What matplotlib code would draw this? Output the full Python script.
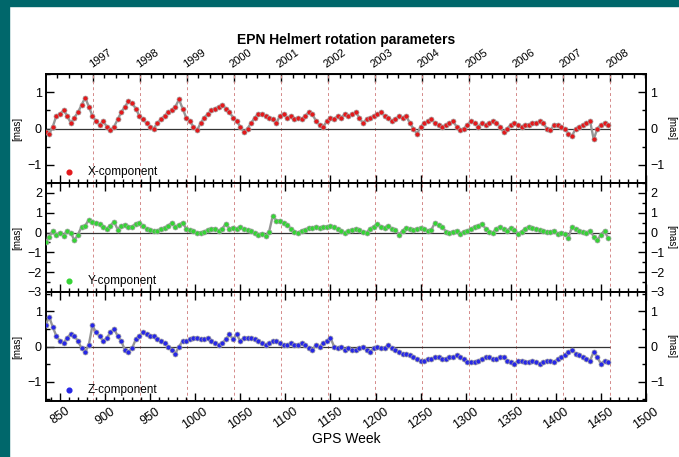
import datetime as dt
import numpy as np
import matplotlib
matplotlib.use("Agg")
import matplotlib.pyplot as plt
from matplotlib.patches import Rectangle
from matplotlib.ticker import MultipleLocator

plt.rcParams['font.family'] = ['Liberation Sans', 'DejaVu Sans']

# weekly solutions, one value read every 4 GPS weeks starting at week 834
FIRST_WEEK = 834
STEP = 4

x_comp = [
    -0.1, -0.15, 0.05, 0.35, 0.4, 0.5, 0.35, 0.15, 0.3, 0.45,
    0.65, 0.85, 0.6, 0.35, 0.2, 0.1, 0.2, 0.05, -0.05, 0.05,
    0.25, 0.45, 0.6, 0.75, 0.7, 0.55, 0.35, 0.25, 0.15, 0.05,
    0.0, 0.15, 0.25, 0.35, 0.45, 0.5, 0.6, 0.8, 0.55, 0.3,
    0.2, 0.05, -0.05, 0.15, 0.3, 0.4, 0.5, 0.55, 0.6, 0.65,
    0.55, 0.45, 0.3, 0.2, 0.05, -0.1, 0.0, 0.15, 0.3, 0.4,
    0.4, 0.35, 0.3, 0.25, 0.15, 0.35, 0.4, 0.3, 0.35, 0.25,
    0.3, 0.25, 0.35, 0.45, 0.4, 0.2, 0.1, 0.05, 0.2, 0.3,
    0.25, 0.35, 0.3, 0.4, 0.35, 0.4, 0.45, 0.3, 0.15, 0.25,
    0.3, 0.35, 0.4, 0.45, 0.35, 0.3, 0.2, 0.25, 0.35, 0.3,
    0.35, 0.15, 0.0, -0.15, 0.05, 0.15, 0.2, 0.25, 0.15, 0.1,
    0.05, 0.1, 0.15, 0.2, 0.05, -0.05, 0.0, 0.1, 0.2, 0.15,
    0.05, 0.15, 0.1, 0.15, 0.2, 0.15, 0.05, -0.1, 0.0, 0.1,
    0.15, 0.1, 0.05, 0.1, 0.1, 0.15, 0.15, 0.2, 0.15, 0.0,
    -0.05, 0.1, 0.1, 0.05, 0.0, -0.15, -0.2, 0.0, 0.05, 0.1,
    0.15, 0.2, -0.3, 0.0, 0.1, 0.15, 0.1,
]

y_comp = [
    -0.5, -0.2, 0.1, -0.1, 0.0, -0.15, 0.1, 0.0, -0.4, -0.1,
    0.3, 0.35, 0.65, 0.55, 0.5, 0.45, 0.3, 0.2, 0.35, 0.55,
    0.15, 0.35, 0.4, 0.3, 0.3, 0.45, 0.5, 0.35, 0.2, 0.15,
    0.1, 0.1, 0.2, 0.25, 0.35, 0.5, 0.3, 0.4, 0.5, 0.2,
    0.15, 0.1, 0.0, 0.0, 0.05, 0.15, 0.2, 0.2, 0.1, 0.2,
    0.45, 0.2, 0.25, 0.2, 0.3, 0.2, 0.15, 0.1, 0.0, -0.1,
    -0.05, -0.15, 0.05, 0.85, 0.6, 0.6, 0.5, 0.4, 0.2, 0.05,
    0.0, 0.1, 0.15, 0.25, 0.25, 0.3, 0.25, 0.3, 0.3, 0.35,
    0.3, 0.2, 0.1, 0.0, 0.1, 0.15, 0.2, 0.15, 0.05, 0.0,
    0.2, 0.3, 0.45, 0.3, 0.25, 0.35, 0.2, 0.15, -0.1, 0.1,
    0.25, 0.2, 0.15, 0.2, 0.25, 0.2, 0.1, 0.15, 0.5, 0.4,
    0.3, 0.05, 0.0, 0.05, 0.1, -0.05, 0.05, 0.1, 0.2, 0.3,
    0.35, 0.45, 0.2, 0.05, 0.0, 0.2, 0.3, 0.2, 0.1, 0.25,
    0.15, -0.05, 0.05, 0.2, 0.3, 0.25, 0.2, 0.15, 0.1, 0.05,
    0.05, 0.1, -0.05, 0.0, -0.05, -0.25, 0.3, 0.2, 0.1, 0.05,
    0.0, 0.1, -0.2, -0.4, -0.1, 0.1, -0.3,
]

z_comp = [
    0.6, 0.85, 0.55, 0.3, 0.15, 0.1, 0.25, 0.35, 0.3, 0.15,
    -0.05, -0.15, 0.05, 0.6, 0.4, 0.3, 0.15, 0.25, 0.4, 0.5,
    0.3, 0.15, -0.1, -0.15, -0.05, 0.2, 0.3, 0.4, 0.35, 0.3,
    0.3, 0.2, 0.15, 0.1, 0.0, -0.1, -0.2, 0.0, 0.15, 0.15,
    0.2, 0.25, 0.25, 0.2, 0.2, 0.25, 0.15, 0.1, 0.05, 0.1,
    0.2, 0.35, 0.2, 0.35, 0.15, 0.25, 0.25, 0.25, 0.2, 0.15,
    0.1, 0.05, 0.1, 0.15, 0.15, 0.1, 0.05, 0.05, 0.1, 0.05,
    0.05, 0.1, 0.05, -0.05, -0.1, 0.05, 0.0, 0.1, 0.15, 0.25,
    0.0, -0.05, 0.0, -0.1, -0.05, -0.1, -0.1, -0.05, 0.0, -0.1,
    -0.15, -0.05, 0.0, -0.05, -0.05, 0.05, -0.05, -0.1, -0.15, -0.2,
    -0.2, -0.25, -0.3, -0.35, -0.4, -0.4, -0.35, -0.35, -0.3, -0.3,
    -0.35, -0.35, -0.3, -0.3, -0.25, -0.3, -0.35, -0.45, -0.45, -0.45,
    -0.4, -0.35, -0.3, -0.3, -0.35, -0.35, -0.3, -0.3, -0.4, -0.45,
    -0.5, -0.4, -0.4, -0.45, -0.45, -0.4, -0.45, -0.5, -0.45, -0.4,
    -0.4, -0.45, -0.35, -0.3, -0.25, -0.15, -0.1, -0.2, -0.25, -0.3,
    -0.35, -0.4, -0.15, -0.3, -0.5, -0.4, -0.45,
]

names = ["X-component", "Y-component", "Z-component"]
colors = ["#e3191c", "#35d435", "#2727e6"]
ylims = [(-1.5, 1.5), (-3.0, 2.5), (-1.55, 1.55)]

years = list(range(1997, 2009))
week_min, week_max = 834.5, 1500


def gps_week(year, month=1):
    days = (dt.date(year, month, 1) - dt.date(1980, 1, 6)).days
    return days / 7.0


def style_axis(ax, ylim):
    ax.set_xlim(week_min, week_max)
    ax.set_ylim(*ylim)
    ax.xaxis.set_major_locator(MultipleLocator(50))
    ax.xaxis.set_minor_locator(MultipleLocator(10))
    ax.yaxis.set_major_locator(MultipleLocator(1))
    ax.yaxis.set_minor_locator(MultipleLocator(0.5))
    ax.tick_params(which="both", direction="in", top=True, bottom=True,
                   left=True, right=True, labelright=True, labelbottom=False,
                   width=1.0, labelsize=9, pad=3)
    ax.tick_params(which="major", length=6)
    ax.tick_params(which="minor", length=3)
    for s in ax.spines.values():
        s.set_linewidth(1.4)
    ax.set_ylabel("[mas]", fontsize=7, labelpad=4)
    ax.text(1.033, 0.5, "[mas]", transform=ax.transAxes, rotation=270,
            fontsize=7, ha="left", va="center")


fig = plt.figure(figsize=(6.79, 4.57), dpi=100)
fig.add_artist(Rectangle((0, 0), 9 / 679, 1, transform=fig.transFigure,
                         color="#00676b", zorder=10))
fig.add_artist(Rectangle((0, 1 - 6 / 457), 1, 6 / 457, transform=fig.transFigure,
                         color="#00676b", zorder=10))

left, width = 46 / 679, 600 / 679
height = 109 / 457
bottoms = [1 - 183 / 457, 1 - 292 / 457, 1 - 401 / 457]

year_weeks = [gps_week(y) for y in years]
quarter_weeks = [gps_week(y, m) for y in range(1996, 2009) for m in (4, 7, 10)]

axes = []
for i, (vals, name, col) in enumerate(zip([x_comp, y_comp, z_comp], names, colors)):
    ax = fig.add_axes([left, bottoms[i], width, height])
    axes.append(ax)
    style_axis(ax, ylims[i])
    weeks = FIRST_WEEK + STEP * np.arange(len(vals))

    for w in year_weeks:
        ax.axvline(w, color="#d48a8a", lw=0.7, ls=(0, (3, 3)), zorder=1)
    ax.hlines(0, week_min, year_weeks[-1], color="#333333", lw=0.9, zorder=2)

    ax.plot(weeks, vals, color="#959595", lw=1.7, zorder=3)
    ax.plot(weeks, vals, "o", ms=3.6, mfc=col, mec="#a0a0a0", mew=0.5, zorder=4)

    ax.plot([0.038], [0.10], "o", ms=3.4, color=col, transform=ax.transAxes)
    ax.text(0.07, 0.10, name, transform=ax.transAxes, fontsize=8.5,
            va="center", ha="left")

# years on top of the first panel
axes[0].tick_params(which="both", top=False)
top = axes[0].secondary_xaxis("top")
top.set_xticks(year_weeks, labels=[str(y) for y in years])
top.set_xticks(quarter_weeks, minor=True)
top.tick_params(which="both", direction="in", width=1.0, labelsize=8, pad=3)
top.tick_params(which="major", length=6)
top.tick_params(which="minor", length=3)
for lab in top.get_xticklabels():
    lab.set_rotation(35)
    lab.set_ha("left")
    lab.set_va("bottom")
    lab.set_rotation_mode("anchor")

# GPS weeks under the last panel
axes[2].tick_params(labelbottom=True, axis="x", labelsize=9)
for lab in axes[2].get_xticklabels():
    lab.set_rotation(35)
    lab.set_ha("center")
axes[2].set_xlabel("GPS Week", fontsize=10, labelpad=1)

fig.text(left + width / 2, 1 - 40 / 457, "EPN Helmert rotation parameters",
         ha="center", va="center", fontsize=10, fontweight="bold")

fig.savefig("out.png", dpi=100)
